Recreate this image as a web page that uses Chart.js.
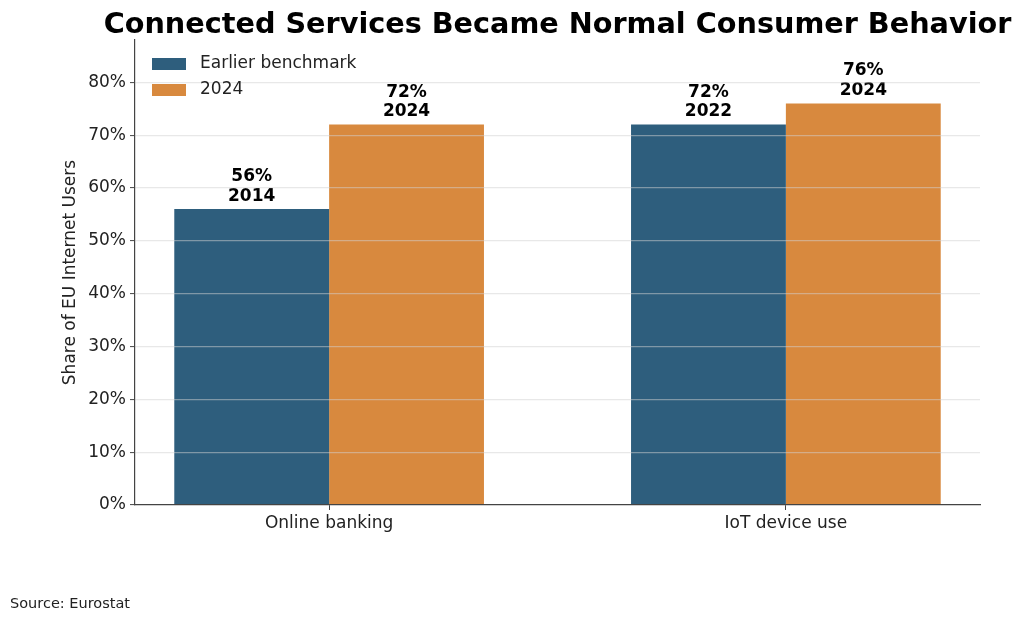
<!DOCTYPE html>
<html>
<head>
<meta charset="utf-8">
<script src="https://cdn.jsdelivr.net/npm/chart.js@4.4.1/dist/chart.umd.min.js"></script>
<style>
  html, body { margin: 0; padding: 0; background: #ffffff; }
  #wrap { width: 1024px; height: 622px; position: relative; }
</style>
</head>
<body>
<div id="wrap"><canvas id="c" width="1024" height="622"></canvas></div>
<script>
const chartTitle = 'Connected Services Became Normal Consumer Behavior';
const yAxisTitle = 'Share of EU Internet Users';
const sourceNote = 'Source: Eurostat';
const categories = ['Online banking', 'IoT device use'];
const seriesNames = ['Earlier benchmark', '2024'];
const earlierValues = [56, 72];
const earlierYears = ['2014', '2022'];
const latestValues = [72, 76];
const latestYears = ['2024', '2024'];
const yTickValues = [0, 10, 20, 30, 40, 50, 60, 70, 80];
const yMax = 88;

const FONT = "'DejaVu Sans', sans-serif";
const TEXT = '#222222';
const AXIS = '#444444';
const BLUE = '#2e5e7d';
const ORANGE = '#d8893e';

const yearLabels = [earlierYears, latestYears];

const toPoints = (vals) => vals.map((v, i) => ({ x: i, y: v }));

const titlePlugin = {
  id: 'centeredTitle',
  afterDraw(chart) {
    const ctx = chart.ctx;
    const a = chart.chartArea;
    ctx.save();
    ctx.font = "bold 28.7px " + FONT;
    ctx.fillStyle = '#000000';
    ctx.textAlign = 'center';
    ctx.textBaseline = 'alphabetic';
    ctx.fillText(chartTitle, (a.left + a.right) / 2, 33);
    ctx.restore();
  }
};

const barLabelPlugin = {
  id: 'barLabels',
  afterDatasetsDraw(chart) {
    const ctx = chart.ctx;
    ctx.save();
    ctx.font = "bold 17px " + FONT;
    ctx.fillStyle = '#000000';
    ctx.textAlign = 'center';
    ctx.textBaseline = 'alphabetic';
    chart.data.datasets.forEach((ds, d) => {
      const meta = chart.getDatasetMeta(d);
      meta.data.forEach((bar, i) => {
        const v = ds.data[i].y;
        ctx.fillText(yearLabels[d][i], bar.x, bar.y - 8.5);
        ctx.fillText(v + '%', bar.x, bar.y - 28);
      });
    });
    ctx.restore();
  }
};

const legendPlugin = {
  id: 'insideLegend',
  afterDraw(chart) {
    const ctx = chart.ctx;
    const a = chart.chartArea;
    ctx.save();
    ctx.font = "17px " + FONT;
    ctx.textAlign = 'left';
    ctx.textBaseline = 'middle';
    chart.data.datasets.forEach((ds, d) => {
      const top = a.top + 18 + d * 26;
      ctx.fillStyle = ds.backgroundColor;
      ctx.fillRect(a.left + 17, top, 34, 12);
      ctx.fillStyle = TEXT;
      ctx.fillText(ds.label, a.left + 65, top + 6);
    });
    ctx.restore();
  }
};

const sourcePlugin = {
  id: 'sourceNote',
  afterDraw(chart) {
    const ctx = chart.ctx;
    ctx.save();
    ctx.font = "14.5px " + FONT;
    ctx.fillStyle = TEXT;
    ctx.textAlign = 'left';
    ctx.textBaseline = 'middle';
    ctx.fillText(sourceNote, 10, 604);
    ctx.restore();
  }
};

new Chart(document.getElementById('c'), {
  type: 'bar',
  data: {
    datasets: [
      { label: seriesNames[0], data: toPoints(earlierValues), backgroundColor: BLUE, borderWidth: 0 },
      { label: seriesNames[1], data: toPoints(latestValues), backgroundColor: ORANGE, borderWidth: 0 }
    ]
  },
  options: {
    responsive: false,
    animation: false,
    devicePixelRatio: 1,
    categoryPercentage: 0.678,
    barPercentage: 1.0,
    layout: { padding: { left: 0, right: 44, top: 40, bottom: 0 } },
    plugins: {
      legend: { display: false },
      tooltip: { enabled: false },
      title: { display: false }
    },
    scales: {
      x: {
        type: 'linear',
        min: -0.425,
        max: 1.425,
        offset: false,
        afterBuildTicks(axis) { axis.ticks = categories.map((c, i) => ({ value: i })); },
        afterFit(axis) { axis.height = 117; },
        ticks: {
          color: TEXT,
          font: { family: FONT, size: 17 },
          padding: 3,
          maxRotation: 0,
          autoSkip: false,
          callback: (v) => categories[v]
        },
        grid: { display: true, drawOnChartArea: false, offset: false, tickColor: AXIS, tickLength: 5, tickWidth: 1 },
        border: { display: true, color: AXIS, width: 1.2, z: 2 }
      },
      y: {
        min: 0,
        max: yMax,
        afterBuildTicks(axis) { axis.ticks = yTickValues.map(v => ({ value: v })); },
        afterFit(axis) { axis.width = 135; },
        ticks: {
          color: TEXT,
          font: { family: FONT, size: 17 },
          padding: 4,
          callback: (v) => v + '%'
        },
        grid: {
          z: 1,
          color: (c) => (c.tick && c.tick.value === 0) ? 'rgba(0,0,0,0)' : 'rgba(210,210,210,0.5)',
          lineWidth: 1.2,
          tickColor: AXIS,
          tickLength: 5,
          tickWidth: 1
        },
        border: { display: true, color: AXIS, width: 1.2, z: 2 },
        title: {
          display: true,
          text: yAxisTitle,
          color: TEXT,
          font: { family: FONT, size: 17 },
          padding: { top: 60, bottom: 0 }
        }
      }
    }
  },
  plugins: [barLabelPlugin, legendPlugin, sourcePlugin, titlePlugin]
});
</script>
</body>
</html>
